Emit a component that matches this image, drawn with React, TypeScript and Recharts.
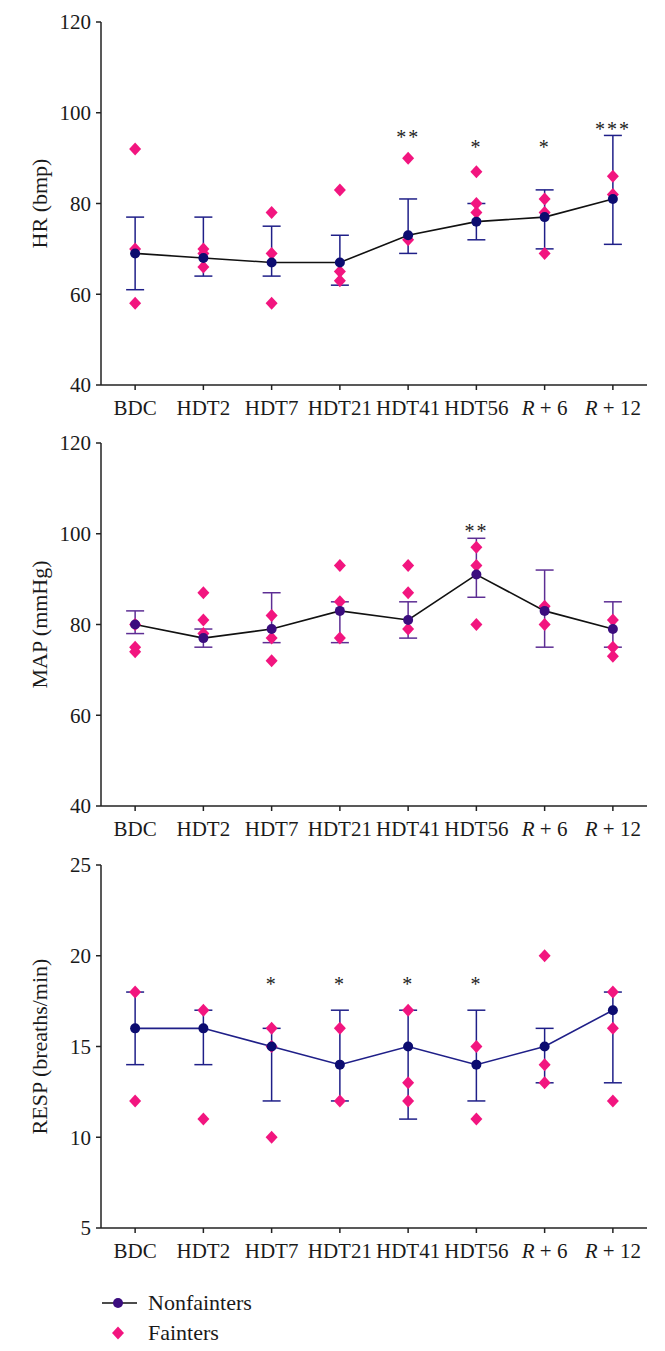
import React from "react";
import { ComposedChart, Line, Scatter, XAxis, YAxis, ErrorBar, Label } from "recharts";

const categories = ["BDC", "HDT2", "HDT7", "HDT21", "HDT41", "HDT56", "R + 6", "R + 12"];

// HR (bmp)
const hrMean = [69, 68, 67, 67, 73, 76, 77, 81];
const hrLow = [61, 64, 64, 62, 69, 72, 70, 71];
const hrHigh = [77, 77, 75, 73, 81, 80, 83, 95];
const hrFainters = [
    [92, 70, 58],
    [70, 69, 66],
    [78, 69, 58],
    [83, 65, 63],
    [90, 72],
    [87, 80, 78],
    [81, 78, 69],
    [86, 82],
];
const hrSig = ["", "", "", "", "**", "*", "*", "***"];
const hrSigAt = [0, 0, 0, 0, 95.2, 93, 93, 96.9];

// MAP (mmHg)
const mapMean = [80, 77, 79, 83, 81, 91, 83, 79];
const mapLow = [78, 75, 76, 76, 77, 86, 75, 75];
const mapHigh = [83, 79, 87, 85, 85, 99, 92, 85];
const mapFainters = [
    [80, 75, 74],
    [87, 81, 78],
    [82, 77, 72],
    [93, 85, 77],
    [93, 87, 79],
    [97, 93, 80],
    [84, 80],
    [81, 75, 73],
];
const mapSig = ["", "", "", "", "", "**", "", ""];
const mapSigAt = [0, 0, 0, 0, 0, 101.2, 0, 0];

// RESP (breaths/min)
const respMean = [16, 16, 15, 14, 15, 14, 15, 17];
const respLow = [14, 14, 12, 12, 11, 12, 13, 13];
const respHigh = [18, 17, 16, 17, 17, 17, 16, 18];
const respFainters = [
    [18, 12],
    [17, 11],
    [16, 15, 10],
    [16, 12],
    [17, 13, 12],
    [15, 11],
    [20, 14, 13],
    [18, 16, 12],
];
const respSig = ["", "", "*", "*", "*", "*", "", ""];
const respSigAt = [0, 0, 18.6, 18.6, 18.6, 18.6, 0, 0];

const FONT = "'Liberation Serif', 'DejaVu Serif', serif";
const PINK = "#f2157f";
const NAVY = "#0c0c70";
const NAVY_BAR = "#1f1f88";
const PURPLE = "#3b0d7e";
const PURPLE_BAR = "#5d2e94";
const AXIS = "#222";

const meanRows = (mean: number[], low: number[], high: number[]) =>
    mean.map((m, i) => ({ x: i, mean: m, err: [m - low[i], high[i] - m] }));

const fainterRows = (f: number[][]) => f.flatMap((vals, i) => vals.map((v) => ({ x: i, y: v })));

const sigRows = (sig: string[], at: number[]) =>
    sig.map((s, i) => ({ x: i, y: at[i], mark: s })).filter((r) => r.mark);

const CatTick = ({ x, y, payload }: any) => {
    const label = categories[payload.value] ?? "";
    const italic = label.startsWith("R");
    return (
        <text x={x} y={y + 23} textAnchor="middle" fontSize={21} fill="#1a1a1a" fontFamily={FONT}>
            {italic ? (
                <>
                    <tspan fontStyle="italic">R</tspan>
                    {label.slice(1)}
                </>
            ) : (
                label
            )}
        </text>
    );
};

const Diamond = ({ cx, cy }: any) => (
    <polygon points={`${cx},${cy - 6.5} ${cx + 6},${cy} ${cx},${cy + 6.5} ${cx - 6},${cy}`} fill={PINK} />
);

const SigMark = ({ cx, cy, payload }: any) => (
    <text x={cx} y={cy + 9.5} textAnchor="middle" fontSize={20} letterSpacing={2} fill="#222" fontFamily={FONT}>
        {payload.mark}
    </text>
);

interface PanelProps {
    title: string;
    domain: [number, number];
    ticks: number[];
    mean: number[];
    low: number[];
    high: number[];
    fainters: number[][];
    sig: string[];
    sigAt: number[];
    lineColor: string;
    dotColor: string;
    barColor: string;
    fainterOnTop?: boolean;
}

function Panel(p: PanelProps) {
    const rows = meanRows(p.mean, p.low, p.high);
    const fRows = fainterRows(p.fainters);
    const sRows = sigRows(p.sig, p.sigAt);

    const fainterSeries = (
        <Scatter key="f" data={fRows} dataKey="y" shape={<Diamond />} isAnimationActive={false} />
    );
    const meanSeries = (
        <Line
            key="m"
            dataKey="mean"
            stroke={p.lineColor}
            strokeWidth={1.6}
            dot={{ r: 5, fill: p.dotColor, stroke: p.dotColor, strokeWidth: 0 }}
            activeDot={false}
            isAnimationActive={false}
        >
            <ErrorBar dataKey="err" direction="y" width={9} stroke={p.barColor} strokeWidth={1.5} isAnimationActive={false} />
        </Line>
    );

    return (
        <ComposedChart width={665} height={421} data={rows} margin={{ top: 22, right: 18, bottom: 0, left: 0 }}>
            <XAxis
                dataKey="x"
                type="number"
                domain={[-0.5, 7.5]}
                ticks={[0, 1, 2, 3, 4, 5, 6, 7]}
                interval={0}
                height={36}
                tick={<CatTick />}
                tickSize={5}
                axisLine={{ stroke: AXIS, strokeWidth: 1.5 }}
                tickLine={{ stroke: AXIS, strokeWidth: 1.5 }}
            />
            <YAxis
                type="number"
                domain={p.domain}
                ticks={p.ticks}
                interval={0}
                width={101}
                tickSize={5}
                tickMargin={5}
                tick={{ fontSize: 21, fill: "#1a1a1a", fontFamily: FONT }}
                axisLine={{ stroke: AXIS, strokeWidth: 1.5 }}
                tickLine={{ stroke: AXIS, strokeWidth: 1.5 }}
            >
                <Label
                    content={(lp: any) => {
                        const vb = lp.viewBox || {};
                        const cy = vb.y + vb.height / 2;
                        return (
                            <text
                                x={39}
                                y={cy}
                                transform={`rotate(-90, 39, ${cy})`}
                                textAnchor="middle"
                                dominantBaseline="central"
                                fontSize={22}
                                fill="#1a1a1a"
                                fontFamily={FONT}
                            >
                                {p.title}
                            </text>
                        );
                    }}
                />
            </YAxis>
            {p.fainterOnTop ? [meanSeries, fainterSeries] : [fainterSeries, meanSeries]}
            <Scatter data={sRows} dataKey="y" shape={<SigMark />} isAnimationActive={false} />
        </ComposedChart>
    );
}

export default function App() {
    return (
        <div style={{ position: "absolute", left: 0, top: 0, width: 665, height: 1351, background: "#fff", fontFamily: FONT }}>
            <div style={{ position: "absolute", left: 0, top: 0 }}>
                <Panel
                    title="HR (bmp)"
                    domain={[40, 120]}
                    ticks={[40, 60, 80, 100, 120]}
                    mean={hrMean}
                    low={hrLow}
                    high={hrHigh}
                    fainters={hrFainters}
                    sig={hrSig}
                    sigAt={hrSigAt}
                    lineColor="#111"
                    dotColor={NAVY}
                    barColor={NAVY_BAR}
                />
            </div>
            <div style={{ position: "absolute", left: 0, top: 421 }}>
                <Panel
                    title="MAP (mmHg)"
                    domain={[40, 120]}
                    ticks={[40, 60, 80, 100, 120]}
                    mean={mapMean}
                    low={mapLow}
                    high={mapHigh}
                    fainters={mapFainters}
                    sig={mapSig}
                    sigAt={mapSigAt}
                    lineColor="#111"
                    dotColor={PURPLE}
                    barColor={PURPLE_BAR}
                    fainterOnTop
                />
            </div>
            <div style={{ position: "absolute", left: 0, top: 843 }}>
                <Panel
                    title="RESP (breaths/min)"
                    domain={[5, 25]}
                    ticks={[5, 10, 15, 20, 25]}
                    mean={respMean}
                    low={respLow}
                    high={respHigh}
                    fainters={respFainters}
                    sig={respSig}
                    sigAt={respSigAt}
                    lineColor={NAVY_BAR}
                    dotColor={NAVY}
                    barColor={NAVY_BAR}
                />
            </div>
            <svg style={{ position: "absolute", left: 0, top: 1280 }} width={665} height={71}>
                <line x1={102} y1={23} x2={137} y2={23} stroke="#111" strokeWidth={1.6} />
                <circle cx={118} cy={23} r={5} fill={PURPLE} />
                <text x={148} y={30} fontSize={22} fill="#1a1a1a" fontFamily={FONT}>
                    Nonfainters
                </text>
                <polygon points="118,46.5 124,53 118,59.5 112,53" fill={PINK} />
                <text x={148} y={60} fontSize={22} fill="#1a1a1a" fontFamily={FONT}>
                    Fainters
                </text>
            </svg>
        </div>
    );
}
